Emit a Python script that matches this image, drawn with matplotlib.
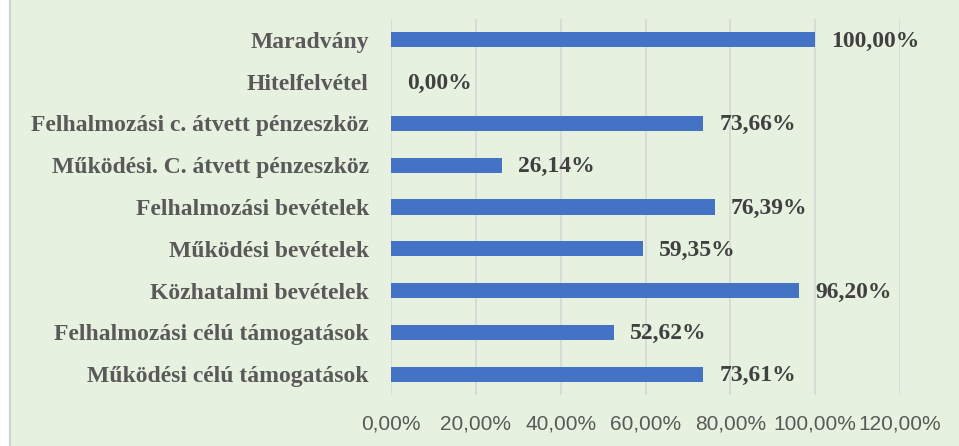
import matplotlib.pyplot as plt
from matplotlib.patches import Rectangle
from matplotlib.lines import Line2D

# Data (bottom to top as in the chart)
categories = [
    "Működési célú támogatások",
    "Felhalmozási célú támogatások",
    "Közhatalmi bevételek",
    "Működési bevételek",
    "Felhalmozási bevételek",
    "Működési. C. átvett pénzeszköz",
    "Felhalmozási c. átvett pénzeszköz",
    "Hitelfelvétel",
    "Maradvány",
]
values = [73.61, 52.62, 96.20, 59.35, 76.39, 26.14, 73.66, 0.00, 100.00]
xticks = [0, 20, 40, 60, 80, 100, 120]

bg = "#E7F1DF"
fig = plt.figure(figsize=(9.59, 4.46), dpi=100, facecolor=bg)
ax = fig.add_axes([0.4077, 0.1143, 0.5308, 0.8431])
ax.set_facecolor(bg)

# white strip + thin border on the left edge
fig.patches.append(Rectangle((0, 0), 9 / 959, 1, transform=fig.transFigure,
                             facecolor="white", edgecolor="none"))
fig.lines.append(Line2D([9.5 / 959, 9.5 / 959], [0, 1], transform=fig.transFigure,
                        color="#D0D0D0", linewidth=1.5))

y = range(len(categories))
ax.barh(y, values, height=0.36, color="#4472C4", zorder=3)

for yi, v in zip(y, values):
    txt = f"{v:.2f}%".replace(".", ",")
    ax.annotate(txt, (v, yi), xytext=(11.5, -1), textcoords="offset points",
                va="center", ha="left", fontsize=17, fontweight="bold",
                family="Liberation Serif", color="#404040")

ax.set_xlim(0, 120)
ax.set_ylim(-0.5, len(categories) - 0.5)
ax.set_xticks(xticks)
ax.set_xticklabels([f"{t:.2f}%".replace(".", ",") for t in xticks],
                   fontsize=15, family="Liberation Sans", color="#595959")
ax.set_yticks(list(y))
ax.set_yticklabels(categories, fontsize=17, fontweight="bold",
                   family="Liberation Serif", color="#595959")

ax.grid(axis="x", color="#D9D9D9", linewidth=1.3, zorder=0)
ax.tick_params(axis="y", length=0, pad=16)
ax.tick_params(axis="x", length=0, pad=14)
for s in ax.spines.values():
    s.set_visible(False)

fig.savefig("out.png", dpi=100, facecolor=bg)
